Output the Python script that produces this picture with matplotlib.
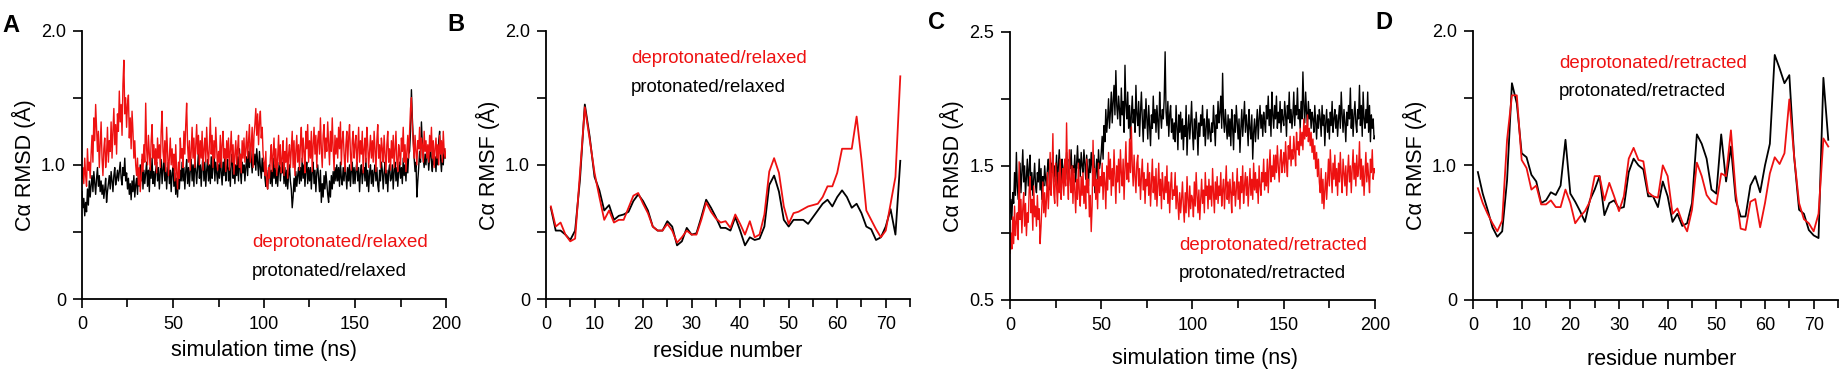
import numpy as np
import matplotlib
matplotlib.use("Agg")
import matplotlib.pyplot as plt
from matplotlib.ticker import MultipleLocator, FixedLocator, FixedFormatter

plt.rcParams['font.family'] = ['Liberation Sans', 'DejaVu Sans']

# ---------------- data ----------------
# RMSD traces sampled every 0.5 ns from 0 to 200 ns
rmsd_relaxed_deprot = [
    0.90, 0.98, 0.86, 1.05, 0.92, 0.84, 1.12, 0.96, 1.02, 0.90,
    1.08, 1.22, 1.02, 1.35, 1.18, 1.45, 1.28, 1.10, 1.25, 0.98,
    1.15, 1.32, 1.05, 0.92, 1.12, 1.20, 0.98, 1.08, 1.28, 1.02,
    1.18, 1.10, 1.32, 1.05, 1.25, 1.42, 1.15, 1.30, 1.08, 1.38,
    1.25, 1.55, 1.32, 1.45, 1.22, 1.60, 1.78, 1.38, 1.50, 1.28,
    1.45, 1.52, 1.20, 1.35, 1.12, 1.40, 1.25, 1.05, 1.18, 1.00,
    0.92, 1.05, 0.85, 0.98, 0.80, 0.90, 1.08, 0.95, 1.15, 1.02,
    1.46, 1.12, 1.00, 1.22, 1.08, 0.96, 1.18, 1.30, 1.05, 1.15,
    1.00, 1.12, 0.94, 1.20, 1.05, 1.15, 0.98, 1.25, 1.40, 1.10,
    1.02, 1.18, 0.95, 1.28, 1.10, 0.92, 1.05, 1.20, 1.00, 1.12,
    0.98, 1.08, 0.88, 1.15, 0.95, 0.82, 1.02, 0.90, 1.20, 1.05,
    1.12, 0.98, 1.25, 1.08, 1.30, 1.46, 1.15, 1.02, 1.18, 0.96,
    1.10, 1.28, 1.05, 1.20, 0.98, 1.15, 1.30, 1.08, 1.22, 1.00,
    1.18, 1.05, 1.25, 0.96, 1.12, 1.20, 1.02, 1.28, 1.10, 1.00,
    1.15, 1.35, 1.08, 1.22, 0.98, 1.18, 1.05, 1.28, 1.12, 0.96,
    1.10, 1.02, 1.22, 0.98, 1.15, 1.25, 1.05, 1.12, 0.95, 1.18,
    1.05, 1.20, 0.96, 1.10, 1.25, 1.02, 1.15, 0.93, 1.08, 1.18,
    1.00, 1.12, 1.22, 0.98, 1.08, 0.94, 1.18, 1.05, 1.20, 1.02,
    1.12, 1.25, 1.05, 1.18, 1.30, 1.02, 1.15, 1.28, 0.98, 1.22,
    1.30, 1.42, 1.22, 1.38, 1.15, 1.32, 1.40, 1.20, 1.28, 1.08,
    1.02, 0.92, 1.10, 0.85, 0.82, 0.98, 0.90, 1.05, 1.15, 0.95,
    1.08, 1.20, 0.98, 1.12, 0.92, 1.05, 1.22, 1.00, 1.15, 0.94,
    1.05, 1.18, 0.92, 1.10, 1.02, 1.20, 0.90, 1.08, 1.15, 0.98,
    1.12, 1.25, 0.98, 1.18, 0.92, 1.10, 1.22, 1.02, 1.15, 0.96,
    1.15, 1.28, 1.02, 1.20, 1.10, 0.94, 1.25, 1.12, 1.30, 1.02,
    1.18, 1.05, 1.25, 0.95, 1.15, 1.28, 1.08, 1.22, 0.98, 1.18,
    1.25, 1.08, 1.35, 1.12, 0.98, 1.22, 1.30, 1.05, 1.20, 1.10,
    1.32, 1.15, 1.00, 1.25, 1.10, 1.35, 1.12, 0.96, 1.22, 1.08,
    1.20, 1.05, 1.28, 1.12, 1.32, 1.00, 1.18, 1.25, 1.08, 0.95,
    1.15, 1.25, 1.02, 1.20, 1.30, 1.08, 0.96, 1.18, 1.25, 1.05,
    1.15, 1.22, 0.96, 1.12, 1.28, 1.02, 1.18, 1.08, 1.25, 0.94,
    1.12, 1.20, 1.02, 1.28, 1.15, 0.98, 1.10, 1.22, 1.05, 1.18,
    1.02, 1.25, 1.12, 0.95, 1.18, 1.30, 1.05, 1.15, 0.98, 1.20,
    1.12, 1.02, 1.22, 1.08, 0.94, 1.15, 1.25, 1.02, 1.12, 0.96,
    1.18, 1.05, 1.22, 0.98, 1.12, 1.25, 1.02, 0.95, 1.15, 1.08,
    1.00, 1.20, 1.10, 1.28, 1.02, 1.15, 0.95, 1.10, 1.22, 1.05,
    1.25, 1.42, 1.50, 1.30, 1.15, 1.05, 1.22, 1.10, 1.00, 1.18,
    1.12, 1.28, 1.05, 1.20, 1.15, 1.02, 1.25, 1.10, 1.18, 1.05,
    1.15, 1.02, 1.22, 1.10, 1.28, 1.05, 1.18, 0.98, 1.12, 1.20,
    1.05, 1.15, 1.00, 1.22, 1.08, 1.18, 1.02, 1.25, 1.10, 1.05,
    1.12]

rmsd_relaxed_prot = [
    0.80, 0.68, 0.75, 0.62, 0.72, 0.65, 0.82, 0.70, 0.88, 0.76,
    0.85, 0.92, 0.80, 0.95, 0.86, 0.78, 0.90, 0.98, 0.84, 0.92,
    0.80, 0.88, 0.78, 0.85, 0.75, 0.82, 0.90, 0.72, 0.80, 0.86,
    0.92, 0.82, 0.95, 0.88, 0.80, 0.92, 0.98, 0.85, 0.90, 0.96,
    0.88, 0.95, 1.02, 0.90, 0.85, 0.98, 0.92, 1.05, 0.88, 0.94,
    0.82, 0.90, 0.78, 0.86, 0.74, 0.88, 0.80, 0.92, 0.76, 0.85,
    0.90, 0.78, 0.95, 0.84, 1.00, 0.88, 1.04, 0.82, 0.96, 0.86,
    0.94, 1.02, 0.84, 0.96, 0.80, 0.98, 0.90, 1.05, 0.86, 0.95,
    0.84, 0.96, 1.02, 0.88, 0.98, 0.82, 0.94, 1.04, 0.86, 0.96,
    1.06, 0.88, 0.98, 0.82, 0.95, 1.02, 0.86, 0.96, 0.80, 0.94,
    0.98, 0.84, 0.94, 0.78, 0.90, 0.76, 0.92, 0.82, 0.96, 0.88,
    1.02, 0.88, 0.98, 0.82, 0.95, 1.04, 0.86, 0.98, 0.84, 0.96,
    1.04, 0.88, 1.00, 0.84, 1.06, 0.96, 0.86, 0.98, 1.10, 0.90,
    1.00, 0.84, 0.98, 1.08, 0.88, 1.02, 0.84, 0.96, 1.04, 0.88,
    1.00, 0.86, 1.06, 0.90, 0.98, 1.12, 0.88, 1.02, 0.94, 0.86,
    1.00, 0.90, 1.08, 0.94, 0.85, 1.02, 0.92, 1.10, 0.88, 0.98,
    1.04, 0.88, 0.98, 0.84, 1.02, 1.08, 0.90, 0.98, 0.86, 1.00,
    0.92, 1.06, 0.88, 1.12, 0.96, 0.86, 1.02, 0.94, 1.00, 0.88,
    0.98, 1.06, 0.92, 1.10, 0.98, 1.15, 1.04, 0.94, 1.08, 1.00,
    1.08, 0.96, 1.12, 1.02, 0.92, 1.10, 0.98, 0.90, 1.05, 0.95,
    1.02, 0.90, 0.84, 0.96, 0.82, 0.94, 1.00, 0.86, 0.96, 0.84,
    1.05, 0.90, 1.00, 0.86, 0.98, 0.84, 0.96, 1.02, 0.88, 0.98,
    0.94, 1.02, 0.86, 0.98, 0.84, 0.96, 0.82, 0.92, 1.00, 0.88,
    0.82, 0.68, 0.76, 0.90, 0.80, 0.95, 0.84, 0.92, 0.98, 0.86,
    0.98, 0.88, 1.05, 0.90, 1.00, 0.84, 0.96, 1.02, 0.86, 0.98,
    0.88, 0.98, 0.82, 0.95, 1.02, 0.86, 0.96, 0.80, 0.94, 1.00,
    0.90, 0.80, 0.96, 0.72, 0.86, 0.76, 0.92, 0.82, 0.95, 0.86,
    0.78, 0.72, 0.88, 0.76, 0.92, 0.82, 0.95, 0.86, 0.98, 0.88,
    1.00, 0.88, 0.98, 0.84, 1.02, 0.90, 0.85, 0.98, 0.88, 1.04,
    0.92, 0.82, 0.98, 0.88, 1.00, 0.84, 0.96, 1.02, 0.86, 0.98,
    0.86, 0.96, 1.02, 0.88, 0.98, 0.80, 0.94, 1.00, 0.86, 0.96,
    0.98, 0.88, 1.05, 0.84, 0.96, 0.80, 0.94, 1.00, 0.86, 0.96,
    0.84, 0.95, 1.00, 0.88, 0.98, 0.85, 0.80, 0.96, 0.88, 1.02,
    0.96, 0.82, 0.94, 1.02, 0.86, 0.96, 0.80, 0.95, 1.00, 0.88,
    0.90, 1.00, 0.82, 0.96, 1.02, 0.88, 0.98, 0.84, 0.95, 1.02,
    0.90, 0.98, 0.86, 1.05, 0.92, 1.00, 0.88, 1.05, 0.94, 1.08,
    1.10, 1.25, 1.56, 1.35, 1.20, 1.05, 0.95, 1.02, 0.76, 0.88,
    0.98, 1.10, 1.02, 1.32, 1.15, 1.05, 0.98, 1.08, 1.00, 1.12,
    1.08, 0.96, 1.05, 1.15, 1.02, 0.95, 1.10, 1.00, 1.06, 0.95,
    1.10, 1.00, 1.18, 1.25, 1.05, 0.95, 1.08, 1.00, 1.12, 1.05,
    1.08]

rmsd_retracted_prot = [
    1.15, 1.25, 1.10, 1.30, 1.22, 1.45, 1.28, 1.60, 1.35, 1.25,
    1.40, 1.52, 1.30, 1.45, 1.62, 1.38, 1.50, 1.28, 1.42, 1.55,
    1.35, 1.48, 1.58, 1.32, 1.45, 1.28, 1.40, 1.52, 1.35, 1.30,
    1.45, 1.38, 1.55, 1.32, 1.48, 1.25, 1.42, 1.35, 1.50, 1.40,
    1.35, 1.48, 1.55, 1.40, 1.32, 1.52, 1.45, 1.60, 1.38, 1.50,
    1.42, 1.58, 1.35, 1.50, 1.62, 1.45, 1.38, 1.55, 1.48, 1.40,
    1.52, 1.40, 1.60, 1.45, 1.35, 1.55, 1.48, 1.62, 1.42, 1.50,
    1.45, 1.58, 1.38, 1.52, 1.65, 1.48, 1.55, 1.42, 1.60, 1.50,
    1.45, 1.62, 1.52, 1.40, 1.58, 1.48, 1.35, 1.55, 1.45, 1.60,
    1.50, 1.38, 1.58, 1.30, 1.45, 1.55, 1.40, 1.62, 1.48, 1.52,
    1.60, 1.72, 1.55, 1.80, 1.68, 1.92, 1.75, 1.85, 2.00, 1.78,
    1.90, 2.05, 1.82, 1.98, 2.10, 1.88, 2.21, 1.95, 1.85, 2.02,
    1.92, 1.80, 2.08, 1.88, 1.98, 1.75, 2.25, 1.95, 1.85, 2.05,
    1.78, 1.95, 1.70, 1.88, 2.02, 1.82, 1.92, 1.75, 2.10, 1.88,
    1.80, 1.98, 1.72, 1.90, 2.05, 1.85, 1.68, 1.92, 1.78, 2.00,
    1.85, 1.70, 1.95, 1.80, 1.65, 1.88, 1.78, 2.02, 1.82, 1.92,
    1.75, 1.95, 1.82, 1.70, 2.05, 1.88, 1.78, 1.92, 1.85, 2.00,
    2.35, 1.90, 1.80, 1.98, 1.72, 1.88, 1.95, 1.75, 1.85, 1.70,
    1.82, 1.68, 1.95, 1.78, 1.62, 1.88, 1.75, 1.90, 1.70, 1.85,
    1.62, 1.80, 1.72, 1.95, 1.58, 1.78, 1.88, 1.70, 1.82, 1.98,
    1.75, 1.62, 1.85, 1.70, 1.90, 1.78, 1.58, 1.82, 1.72, 1.88,
    1.80, 1.95, 1.72, 1.85, 1.65, 1.78, 1.92, 1.70, 1.85, 1.75,
    1.68, 1.82, 1.75, 1.95, 1.80, 1.65, 1.88, 1.78, 1.98, 1.82,
    1.90, 2.02, 1.78, 2.19, 1.85, 1.75, 1.92, 1.80, 1.70, 1.88,
    1.72, 1.85, 1.65, 1.92, 1.78, 1.62, 1.88, 1.75, 1.95, 1.82,
    1.70, 1.85, 1.60, 1.78, 1.92, 1.72, 1.85, 1.98, 1.75, 1.88,
    1.80, 1.65, 1.92, 1.78, 1.70, 1.88, 1.55, 1.75, 1.85, 1.68,
    1.80, 1.92, 1.70, 1.85, 1.95, 1.78, 1.88, 1.72, 1.90, 1.82,
    1.75, 1.95, 1.85, 2.02, 1.80, 1.92, 1.72, 2.05, 1.88, 1.78,
    1.95, 1.85, 2.02, 1.78, 1.90, 1.82, 1.98, 1.75, 1.92, 1.85,
    1.80, 1.98, 1.88, 1.72, 1.95, 1.85, 2.05, 1.82, 1.92, 1.78,
    1.88, 2.05, 1.80, 1.95, 1.88, 2.08, 1.85, 1.92, 1.78, 1.98,
    1.85, 2.20, 1.95, 1.82, 2.05, 1.90, 1.80, 1.98, 1.85, 1.92,
    1.78, 1.90, 1.85, 1.75, 1.95, 1.82, 1.70, 1.88, 1.78, 1.92,
    1.85, 1.72, 1.95, 1.80, 1.88, 1.65, 1.82, 1.92, 1.75, 1.85,
    1.70, 1.90, 1.80, 1.98, 1.75, 1.85, 1.92, 1.78, 1.88, 1.72,
    1.85, 1.95, 1.78, 2.05, 1.88, 1.75, 1.92, 1.82, 1.68, 1.90,
    1.80, 1.95, 1.85, 2.08, 1.78, 1.92, 1.72, 1.88, 1.98, 1.82,
    1.75, 1.92, 1.85, 2.10, 1.80, 1.95, 1.72, 2.05, 1.85, 1.78,
    1.92, 1.82, 2.05, 1.75, 1.95, 1.68, 1.88, 1.78, 1.85, 1.70,
    1.72]

rmsd_retracted_deprot = [
    0.85, 1.00, 0.88, 1.12, 0.92, 1.20, 0.98, 1.08, 1.15, 0.95,
    1.53, 1.10, 1.25, 1.00, 1.18, 1.30, 1.05, 1.22, 0.98, 1.15,
    1.08, 1.32, 1.42, 1.15, 1.25, 1.02, 1.35, 1.12, 1.20, 1.05,
    1.28, 1.10, 1.18, 0.92, 1.05, 1.22, 1.38, 1.15, 1.30, 1.12,
    1.25, 1.45, 1.18, 1.35, 1.60, 1.28, 1.42, 1.74, 1.30, 1.22,
    1.52, 1.35, 1.20, 1.45, 1.30, 1.55, 1.25, 1.38, 1.48, 1.28,
    1.55, 1.35, 1.82, 1.42, 1.25, 1.62, 1.40, 1.30, 1.50, 1.22,
    1.48, 1.32, 1.15, 1.40, 1.25, 1.52, 1.30, 1.20, 1.42, 1.28,
    1.45, 1.22, 1.35, 1.18, 1.55, 1.30, 1.40, 1.12, 1.28, 1.01,
    1.20, 1.69, 1.35, 1.48, 1.25, 1.40, 1.18, 1.52, 1.30, 1.42,
    1.35, 1.52, 1.25, 1.45, 1.38, 1.18, 1.50, 1.32, 1.60, 1.40,
    1.55, 1.28, 1.48, 1.35, 1.62, 1.42, 1.22, 1.50, 1.38, 1.55,
    1.30, 1.62, 1.45, 1.35, 1.55, 1.25, 1.48, 1.68, 1.40, 1.52,
    1.38, 1.70, 1.45, 1.79, 1.50, 1.35, 1.58, 1.42, 1.30, 1.52,
    1.58, 1.35, 1.48, 1.25, 1.42, 1.55, 1.32, 1.45, 1.22, 1.40,
    1.35, 1.52, 1.28, 1.45, 1.20, 1.38, 1.55, 1.30, 1.42, 1.25,
    1.48, 1.20, 1.35, 1.52, 1.28, 1.40, 1.18, 1.45, 1.32, 1.25,
    1.42, 1.30, 1.50, 1.22, 1.38, 1.15, 1.35, 1.45, 1.25, 1.32,
    1.28, 1.45, 1.18, 1.35, 1.22, 1.10, 1.30, 1.15, 1.25, 1.38,
    1.20, 1.08, 1.30, 1.15, 1.42, 1.25, 1.12, 1.35, 1.18, 1.28,
    1.25, 1.12, 1.38, 1.20, 1.45, 1.28, 1.15, 1.32, 1.10, 1.25,
    1.40, 1.22, 1.32, 1.15, 1.45, 1.28, 1.35, 1.18, 1.40, 1.25,
    1.35, 1.20, 1.48, 1.30, 1.15, 1.38, 1.25, 1.42, 1.22, 1.35,
    1.28, 1.45, 1.20, 1.32, 1.40, 1.18, 1.35, 1.50, 1.25, 1.38,
    1.22, 1.40, 1.30, 1.15, 1.45, 1.28, 1.38, 1.20, 1.32, 1.48,
    1.25, 1.38, 1.18, 1.42, 1.30, 1.50, 1.22, 1.35, 1.45, 1.28,
    1.42, 1.20, 1.35, 1.48, 1.28, 1.40, 1.25, 1.52, 1.32, 1.45,
    1.30, 1.40, 1.22, 1.50, 1.35, 1.28, 1.45, 1.38, 1.55, 1.32,
    1.45, 1.35, 1.55, 1.30, 1.48, 1.62, 1.38, 1.50, 1.42, 1.58,
    1.40, 1.58, 1.45, 1.65, 1.50, 1.38, 1.55, 1.62, 1.45, 1.52,
    1.60, 1.45, 1.68, 1.52, 1.42, 1.65, 1.55, 1.72, 1.50, 1.62,
    1.55, 1.72, 1.60, 1.50, 1.75, 1.62, 1.68, 1.58, 1.78, 1.65,
    1.75, 1.62, 1.85, 1.70, 1.80, 1.72, 1.88, 1.68, 1.78, 1.65,
    1.75, 1.60, 1.70, 1.55, 1.65, 1.48, 1.60, 1.42, 1.55, 1.38,
    1.30, 1.48, 1.22, 1.40, 1.18, 1.32, 1.45, 1.25, 1.38, 1.55,
    1.35, 1.62, 1.45, 1.30, 1.52, 1.40, 1.58, 1.35, 1.48, 1.28,
    1.52, 1.38, 1.60, 1.42, 1.30, 1.55, 1.45, 1.35, 1.50, 1.28,
    1.45, 1.58, 1.38, 1.50, 1.30, 1.48, 1.62, 1.40, 1.52, 1.35,
    1.58, 1.42, 1.48, 1.68, 1.40, 1.55, 1.35, 1.50, 1.28, 1.45,
    1.60, 1.38, 1.52, 1.42, 1.30, 1.55, 1.45, 1.62, 1.40, 1.48,
    1.45]

residues = np.arange(1, 74)          # residues 1..73

rmsf_relaxed_deprot = [
    0.69, 0.54, 0.57, 0.48, 0.43, 0.45, 0.94, 1.43, 1.19, 0.94,
    0.76, 0.59, 0.66, 0.57, 0.59, 0.59, 0.68, 0.77, 0.79, 0.71,
    0.64, 0.54, 0.51, 0.51, 0.56, 0.51, 0.42, 0.46, 0.51, 0.48,
    0.48, 0.59, 0.72, 0.65, 0.60, 0.57, 0.58, 0.53, 0.63, 0.56,
    0.48, 0.58, 0.46, 0.48, 0.63, 0.95, 1.05, 0.94, 0.69, 0.56,
    0.64, 0.65, 0.67, 0.69, 0.70, 0.71, 0.76, 0.84, 0.84, 0.94,
    1.12, 1.12, 1.12, 1.36, 1.04, 0.66, 0.59, 0.52, 0.46, 0.51,
    0.71, 0.91, 1.66]

rmsf_relaxed_prot = [
    0.68, 0.51, 0.51, 0.48, 0.44, 0.51, 0.89, 1.45, 1.21, 0.91,
    0.81, 0.66, 0.70, 0.59, 0.62, 0.63, 0.65, 0.73, 0.78, 0.73,
    0.66, 0.54, 0.51, 0.51, 0.58, 0.54, 0.40, 0.43, 0.53, 0.48,
    0.49, 0.61, 0.74, 0.68, 0.61, 0.53, 0.53, 0.51, 0.61, 0.51,
    0.40, 0.46, 0.44, 0.45, 0.54, 0.85, 0.92, 0.80, 0.59, 0.54,
    0.59, 0.59, 0.59, 0.56, 0.61, 0.66, 0.71, 0.74, 0.69, 0.76,
    0.81, 0.76, 0.68, 0.71, 0.64, 0.54, 0.52, 0.44, 0.46, 0.54,
    0.67, 0.48, 1.03]

rmsf_retracted_deprot = [
    0.83, 0.72, 0.64, 0.57, 0.51, 0.59, 1.19, 1.52, 1.52, 1.04,
    0.98, 0.82, 0.85, 0.71, 0.71, 0.74, 0.69, 0.69, 0.82, 0.72,
    0.57, 0.62, 0.66, 0.73, 0.92, 0.92, 0.74, 0.87, 0.77, 0.66,
    0.77, 1.05, 1.13, 1.04, 1.03, 0.80, 0.77, 0.76, 1.00, 0.92,
    0.64, 0.68, 0.58, 0.51, 0.67, 1.02, 0.92, 0.78, 0.73, 0.71,
    0.94, 0.92, 1.26, 0.79, 0.53, 0.52, 0.73, 0.75, 0.54, 0.72,
    0.94, 1.06, 1.01, 1.09, 1.49, 1.06, 0.72, 0.60, 0.57, 0.51,
    0.64, 1.20, 1.14]

rmsf_retracted_prot = [
    0.95, 0.79, 0.67, 0.54, 0.47, 0.51, 0.89, 1.61, 1.46, 1.09,
    1.06, 0.93, 0.88, 0.72, 0.74, 0.80, 0.78, 0.85, 1.19, 0.79,
    0.73, 0.66, 0.58, 0.74, 0.82, 0.92, 0.63, 0.72, 0.74, 0.68,
    0.69, 0.95, 1.05, 1.00, 0.97, 0.77, 0.77, 0.69, 0.88, 0.77,
    0.58, 0.64, 0.55, 0.57, 0.72, 1.23, 1.16, 1.05, 0.82, 0.79,
    1.23, 0.88, 1.14, 0.74, 0.62, 0.62, 0.85, 0.92, 0.80, 1.00,
    1.16, 1.82, 1.72, 1.61, 1.67, 1.06, 0.67, 0.64, 0.52, 0.48,
    0.46, 1.65, 1.19]

panel_letters = ["A", "B", "C", "D"]
xlabels = ["simulation time (ns)", "residue number",
           "simulation time (ns)", "residue number"]
ylabels = ["Cα RMSD (Å)", "Cα RMSF (Å)", "Cα RMSD (Å)", "Cα RMSF (Å)"]
legend_red = ["deprotonated/relaxed", "deprotonated/relaxed",
              "deprotonated/retracted", "deprotonated/retracted"]
legend_black = ["protonated/relaxed", "protonated/relaxed",
                "protonated/retracted", "protonated/retracted"]


def times_for(values):
    # frames are evenly spaced over the 200 ns simulation
    return np.linspace(0, 200, len(values))


# ---------------- figure ----------------
W, H = 1840, 378
fig = plt.figure(figsize=(W / 100, H / 100), dpi=100)
RED = '#ee1111'


def px_axes(l, t, r, b):
    return fig.add_axes([l / W, 1 - b / H, (r - l) / W, (b - t) / H])


axes = [px_axes(82, 30.7, 446, 299),
        px_axes(546, 30.7, 910, 299),
        px_axes(1010, 31.7, 1375, 300),
        px_axes(1473, 30.7, 1838, 300)]

series = [
    (times_for(rmsd_relaxed_prot), rmsd_relaxed_prot,
     times_for(rmsd_relaxed_deprot), rmsd_relaxed_deprot, 1.0),
    (residues, rmsf_relaxed_prot, residues, rmsf_relaxed_deprot, 1.3),
    (times_for(rmsd_retracted_prot), rmsd_retracted_prot,
     times_for(rmsd_retracted_deprot), rmsd_retracted_deprot, 1.0),
    (residues, rmsf_retracted_prot, residues, rmsf_retracted_deprot, 1.3),
]

for ax, (xb, yb, xr, yr, lw) in zip(axes, series):
    ax.plot(xb, yb, color='black', lw=lw)
    ax.plot(xr, yr, color=RED, lw=lw)

for i, ax in enumerate(axes):
    for s in ('top', 'right'):
        ax.spines[s].set_visible(False)
    for s in ('left', 'bottom'):
        ax.spines[s].set_linewidth(1.3)
    ax.tick_params(which='both', direction='out', width=1.2, labelsize=13,
                   colors='black')
    ax.tick_params(which='major', length=6.5)
    ax.tick_params(which='minor', length=5.5)
    ax.tick_params(axis='y', which='both', pad=5)
    ax.tick_params(axis='x', which='both', pad=6)
    if i in (0, 2):
        ax.set_xlim(0, 200)
        ax.xaxis.set_major_locator(MultipleLocator(50))
        ax.xaxis.set_minor_locator(MultipleLocator(25))
    else:
        ax.set_xlim(0, 75)
        ax.xaxis.set_major_locator(FixedLocator([0, 10, 20, 30, 40, 50, 60, 70]))
        ax.xaxis.set_minor_locator(MultipleLocator(5))
    if i == 2:
        ax.set_ylim(0.5, 2.5)
        ax.yaxis.set_major_locator(FixedLocator([0.5, 1.5, 2.5]))
        ax.yaxis.set_major_formatter(FixedFormatter(["0.5", "1.5", "2.5"]))
        ax.yaxis.set_minor_locator(FixedLocator([1.0, 2.0]))
    else:
        ax.set_ylim(0, 2.0)
        ax.yaxis.set_major_locator(FixedLocator([0, 1.0, 2.0]))
        ax.yaxis.set_major_formatter(FixedFormatter(["0", "1.0", "2.0"]))
        ax.yaxis.set_minor_locator(FixedLocator([0.5, 1.5]))
    ax.yaxis.set_tick_params(which='minor', length=6.5)

    ax.set_xlabel(xlabels[i], fontsize=15.5)
    ax.set_ylabel(ylabels[i], fontsize=15.5)
    ax.yaxis.set_label_coords(-0.127, 0.5)

axes[0].xaxis.set_label_coords(0.5, -0.153)
axes[1].xaxis.set_label_coords(0.5, -0.157)
axes[2].xaxis.set_label_coords(0.534, -0.179)
axes[3].xaxis.set_label_coords(0.517, -0.183)

# in-plot legends (pixel positions: left x, red baseline, black baseline)
legend_pos = [(252, 247, 276), (631, 63, 92), (1179, 250, 278), (1559, 68, 96)]
for i, (lx, yr_, yb_) in enumerate(legend_pos):
    fig.text(lx / W, 1 - yr_ / H, legend_red[i], color=RED, fontsize=13.4,
             ha='left', va='baseline')
    fig.text(lx / W, 1 - yb_ / H, legend_black[i], color='black',
             fontsize=13.4, ha='left', va='baseline')

# panel letters (left x, baseline y in pixels)
letter_pos = [(2, 32), (447, 31), (928, 29), (1375, 29)]
for (lx, ly), letter in zip(letter_pos, panel_letters):
    fig.text(lx / W, 1 - ly / H, letter, fontsize=17, fontweight='bold',
             ha='left', va='baseline')

fig.savefig('out.png', dpi=100)
